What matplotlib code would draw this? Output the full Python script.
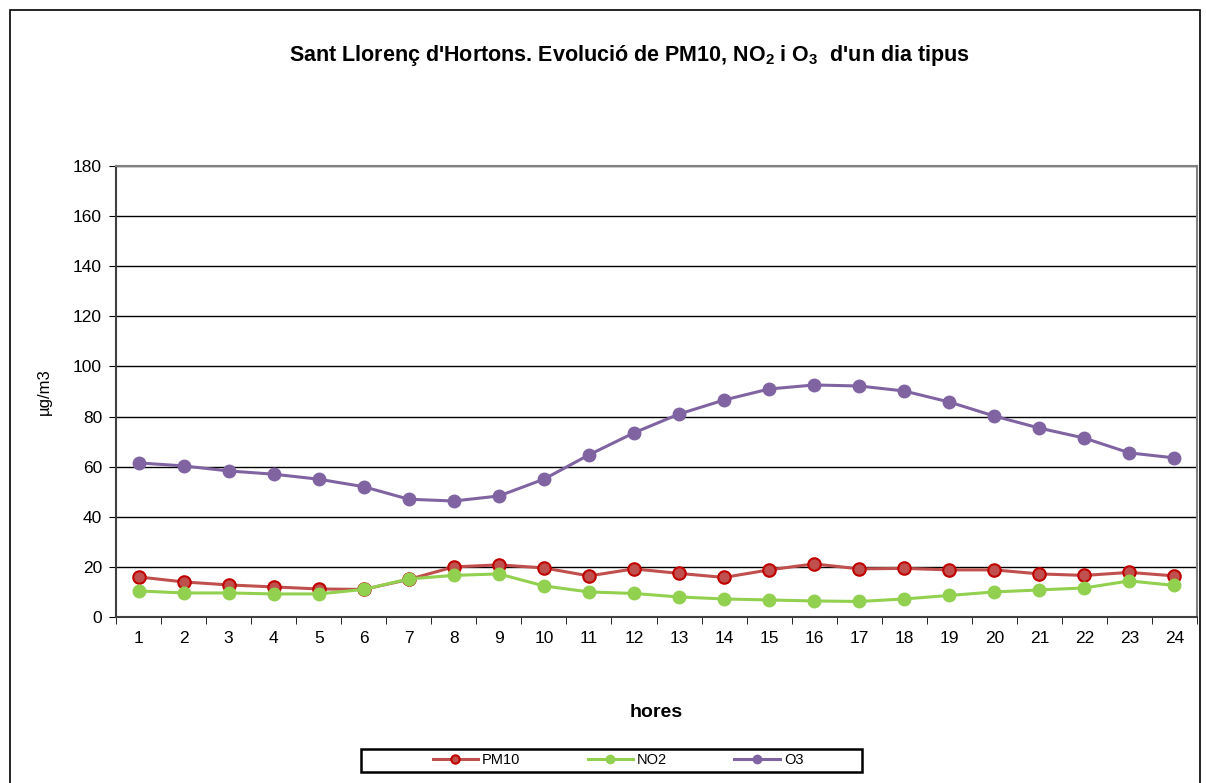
import numpy as np
import matplotlib.pyplot as plt
from matplotlib.patches import Rectangle

plt.rcParams['font.family'] = ['Liberation Sans', 'DejaVu Sans']
plt.rcParams['mathtext.fontset'] = 'custom'
plt.rcParams['mathtext.rm'] = 'Liberation Sans:bold'
plt.rcParams['mathtext.default'] = 'rm'

# Data
hours = list(range(1, 25))
pm10 = [16.0, 14.0, 12.8, 12.0, 11.2, 11.0, 15.0, 20.0, 20.8, 19.6, 16.4, 19.2,
        17.4, 15.8, 18.8, 21.2, 19.2, 19.4, 18.8, 18.8, 17.2, 16.6, 17.8, 16.4]
no2 = [10.4, 9.6, 9.6, 9.2, 9.2, 11.0, 15.2, 16.6, 17.2, 12.4, 10.0, 9.4,
       8.0, 7.2, 6.8, 6.4, 6.2, 7.2, 8.6, 10.0, 10.8, 11.6, 14.4, 12.6]
o3 = [61.5, 60.3, 58.3, 57.0, 55.0, 52.0, 47.0, 46.3, 48.3, 55.0, 64.7, 73.5,
      81.0, 86.6, 91.0, 92.6, 92.2, 90.2, 85.8, 80.2, 75.4, 71.4, 65.5, 63.5]

W, H = 1206, 783
fig = plt.figure(figsize=(W / 100, H / 100), dpi=100)
ax = fig.add_axes([116 / W, 1 - 617 / H, (1197 - 116) / W, (617 - 166) / H])

# Outer frame around the whole chart
fig.patches.append(Rectangle((10 / W, -0.01), 1190 / W, 1 - 10 / H + 0.01,
                             transform=fig.transFigure, fill=False,
                             edgecolor='black', linewidth=1.2))

ax.plot(hours, pm10, color='#C0504D', lw=2.2, marker='o', ms=9,
        mfc='#C0504D', mec='#C00000', mew=1.5, label='PM10', zorder=3)
ax.plot(hours, no2, color='#92D050', lw=2.2, marker='o', ms=9,
        mfc='#92D050', mec='#92D050', label='NO2', zorder=3)
ax.plot(hours, o3, color='#8064A2', lw=2.2, marker='o', ms=9,
        mfc='#8064A2', mec='#8064A2', label='O3', zorder=3)

ax.set_xlim(0.5, 24.5)
ax.set_ylim(0, 180)
ax.set_yticks(np.arange(0, 181, 20))
ax.set_xticks(hours)
ax.set_xticks(np.arange(0.5, 25, 1), minor=True)
ax.tick_params(axis='x', which='major', length=0, labelsize=12.5, pad=10)
ax.tick_params(axis='x', which='minor', length=5, direction='out', color='black')
ax.tick_params(axis='y', labelsize=12.5, length=5, direction='out', pad=5)
ax.grid(axis='y', color='black', lw=1)
ax.set_axisbelow(True)
for s in ax.spines.values():
    s.set_color('#808080')
    s.set_linewidth(1.5)
ax.spines['left'].set_color('#404040')
ax.spines['bottom'].set_color('#404040')

ax.set_xlabel('hores', fontsize=14, fontweight='bold', labelpad=42)
ax.set_ylabel('µg/m3', fontsize=12, labelpad=15)
fig.text(629.5 / W, 1 - 56 / H,
         r"Sant Llorenç d'Hortons. Evolució de PM10, NO$_2$ i O$_3$  d'un dia tipus",
         ha='center', va='center', fontsize=15.5, fontweight='bold')

# Legend box drawn separately (wide side padding as in the original)
fig.patches.append(Rectangle((361 / W, 1 - 772 / H), (862 - 361) / W, 23 / H,
                             transform=fig.transFigure, fill=False,
                             edgecolor='black', linewidth=1.8))
leg = fig.legend(loc='center', bbox_to_anchor=(618 / W, 1 - 760.5 / H), ncol=3,
                 fontsize=10.5, frameon=False, handlelength=3.1,
                 columnspacing=4.6, handletextpad=0.3)
for h in leg.legend_handles:
    h.set_markersize(6)

fig.savefig('out.png', dpi=100)
